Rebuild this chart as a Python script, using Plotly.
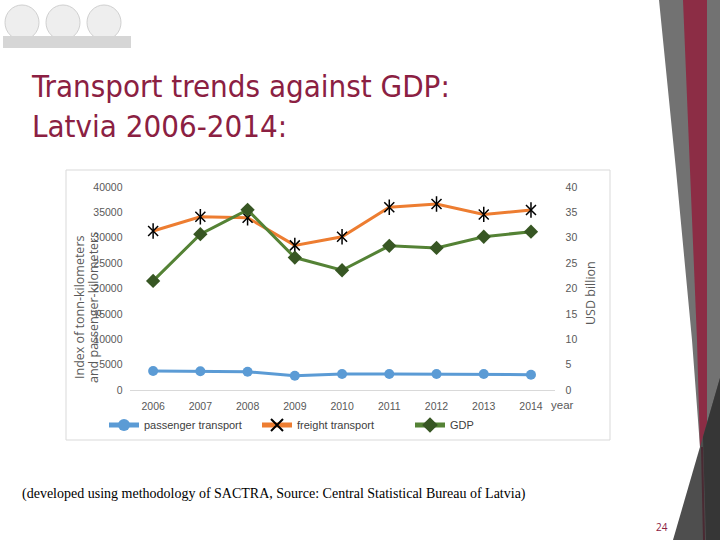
import plotly.graph_objects as go

years = ["2006", "2007", "2008", "2009", "2010", "2011", "2012", "2013", "2014"]
passenger = [3740, 3680, 3600, 2820, 3150, 3150, 3150, 3150, 3020]
freight = [31330, 34150, 33950, 28500, 30200, 36000, 36650, 34600, 35470]
gdp = [21.5, 30.7, 35.5, 26.1, 23.6, 28.4, 28.0, 30.2, 31.2]

W, H = 720, 540
def px(x):
    return x / W
def py(y):
    return 1 - y / H

TXT = "#595959"
TICKFONT = dict(family="Liberation Sans, Arial, sans-serif", size=10.5, color=TXT)

fig = go.Figure()
fig.add_trace(go.Scatter(
    x=years, y=passenger, name="passenger transport", mode="lines+markers",
    line=dict(color="#5B9BD5", width=3),
    marker=dict(symbol="circle", size=10, color="#5B9BD5"),
))
fig.add_trace(go.Scatter(
    x=years, y=freight, name="freight transport", mode="lines+markers",
    line=dict(color="#ED7D31", width=3),
    marker=dict(symbol="x-thin-open", size=10, color="#000000", line=dict(color="#000000", width=1.5)),
))
fig.add_trace(go.Scatter(
    x=years, y=freight, name="freight transport", mode="markers", showlegend=False,
    marker=dict(symbol="line-ns-open", size=11, color="#000000", line=dict(color="#000000", width=1.5)),
))
fig.add_trace(go.Scatter(
    x=years, y=gdp, name="GDP", mode="lines+markers", yaxis="y2",
    line=dict(color="#548235", width=3),
    marker=dict(symbol="diamond", size=11, color="#375623"),
))

x0, x1 = 129.5, 554.6
ytop, ybot = 187, 390

shapes = []
shapes.append(dict(type="rect", xref="paper", yref="paper", x0=px(66), x1=px(610), y0=py(440), y1=py(170),
                   line=dict(color="#D9D9D9", width=1), fillcolor="rgba(0,0,0,0)", layer="below"))

def poly(pts, color):
    d = "M " + " L ".join(f"{px(a):.5f},{py(b):.5f}" for a, b in pts) + " Z"
    return dict(type="path", xref="paper", yref="paper", path=d, fillcolor=color, line=dict(width=0), layer="above")

shapes.append(poly([(659, 0), (720, 0), (720, 540), (703, 540), (700, 447), (692, 340), (676, 170)], "#727272"))
shapes.append(poly([(683, 0), (707, 0), (707, 540), (702, 540), (700, 447), (697, 340), (690, 170)], "#8C2D45"))
shapes.append(poly([(673, 540), (720, 378), (720, 540)], "#4E4E4E"))
shapes.append(poly([(703, 437), (720, 378), (720, 540), (706, 540)], "#363636"))
shapes.append(poly([(701, 447), (703, 447), (705, 540), (703, 540)], "#4A2A33"))

for cx in (22, 63, 104):
    shapes.append(dict(type="circle", xref="paper", yref="paper",
                       x0=px(cx - 17), x1=px(cx + 17), y0=py(40), y1=py(5),
                       fillcolor="#EEEEEE", line=dict(color="#D0D0D0", width=1), layer="below"))
shapes.append(dict(type="rect", xref="paper", yref="paper", x0=px(3), x1=px(131), y0=py(48), y1=py(36),
                   fillcolor="#D6D6D6", line=dict(width=0), layer="below"))

def ann(text, x, y, size, color, family, xanchor="center", yanchor="middle", angle=0, align="left"):
    return dict(text=text, x=px(x), y=py(y), xanchor=xanchor, yanchor=yanchor, textangle=angle,
                showarrow=False, align=align, xref="paper", yref="paper",
                font=dict(family=family, size=size, color=color))

SANS = "Open Sans, sans-serif"
annotations = [
    ann("Transport trends against GDP:<br>Latvia 2006-2014:", 29, 66, 31, "#8B2042",
        "DejaVu Sans Condensed, DejaVu Sans, sans-serif", xanchor="left", yanchor="top"),
    ann("Index of tonn-kilometers", 79, 308, 12.5, TXT, SANS, angle=-90),
    ann("and passenger-kilometers", 93, 308, 12.5, TXT, SANS, angle=-90),
    ann("USD billion", 590, 293, 12.5, TXT, SANS, angle=-90),
    ann("year", 549, 405, 11.5, TXT, "Liberation Sans, sans-serif", xanchor="left"),
    ann("(developed using methodology of SACTRA, Source: Central Statistical Bureau of Latvia)", 20, 494, 14,
        "#000000", "Liberation Serif, Times New Roman, serif", xanchor="left"),
    ann("24", 662, 527, 10, "#8B2042", SANS),
]

fig.update_layout(
    width=W, height=H,
    margin=dict(l=0, r=0, t=0, b=0),
    paper_bgcolor="white", plot_bgcolor="white",
    showlegend=True,
    legend=dict(orientation="h", x=px(104), y=py(425), xanchor="left", yanchor="middle",
                font=dict(family="Liberation Sans, sans-serif", size=11, color="#404040"),
                entrywidth=108, entrywidthmode="pixels", bgcolor="rgba(0,0,0,0)", itemwidth=30,
                itemsizing="constant"),
    xaxis=dict(domain=[px(x0), px(x1)], range=[-0.5, 8.5], showgrid=False, zeroline=False, showline=False,
               ticks="", tickfont=TICKFONT, automargin=False, ticklabelstandoff=8),
    yaxis=dict(domain=[py(ybot), py(ytop)], range=[0, 40000], dtick=5000, tickformat="d", showgrid=False,
               zeroline=True, zerolinecolor="#D9D9D9", zerolinewidth=1, showline=False,
               ticks="", tickfont=TICKFONT, automargin=False, ticklabelstandoff=6),
    yaxis2=dict(overlaying="y", side="right", range=[0, 40], dtick=5, showgrid=False,
                zeroline=False, showline=False, ticks="", tickfont=TICKFONT, automargin=False,
                ticklabelstandoff=10),
    shapes=shapes,
    annotations=annotations,
)

fig.write_html("out.html", config={"displayModeBar": False},
               post_script="document.body.style.margin='0';document.body.style.overflow='hidden';")
